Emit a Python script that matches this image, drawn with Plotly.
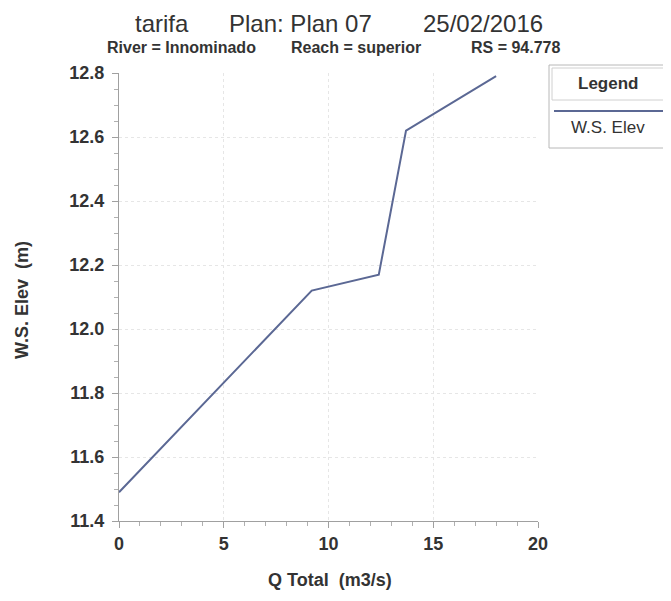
import plotly.graph_objects as go

q_total = [0.0, 9.2, 12.4, 13.7, 18.0]
ws_elev = [11.49, 12.12, 12.17, 12.62, 12.79]
series_name = "W.S. Elev"
title_parts = ["tarifa", "Plan: Plan 07", "25/02/2016"]
subtitle_parts = ["River = Innominado", "Reach = superior", "RS = 94.778"]
x_title = "Q Total  (m3/s)"
y_title = "W.S. Elev  (m)"
legend_title = "Legend"

OFF = 8  # page body margin
W, H = 671 - OFF, 601 - OFF
L, T = 119 - OFF, 73 - OFF
pw, ph = 419, 448
R, B = W - L - pw, H - T - ph

def px(x):
    return (x - OFF - L) / pw

def py(y):
    return (T + ph - (y - OFF)) / ph

line_color = "#5b6894"
txt = "#333333"
font = "Liberation Sans, Arial, sans-serif"

fig = go.Figure()
fig.add_trace(go.Scatter(x=q_total, y=ws_elev, mode="lines", name=series_name,
                         line=dict(color=line_color, width=2), showlegend=False))

axis_common = dict(showgrid=True, gridcolor="#e6e6e6", griddash="dot",
                   showline=True, linecolor="#a0a0a0", linewidth=1, zeroline=False,
                   ticks="outside", ticklen=6, tickcolor="#a0a0a0", automargin=False,
                   tickfont=dict(size=18, color=txt, family=font, weight="bold"))

fig.update_layout(
    width=W, height=H,
    margin=dict(l=L, r=R, t=T, b=B),
    paper_bgcolor="white", plot_bgcolor="white",
    font=dict(family=font, color=txt),
    xaxis=dict(range=[0, 20], dtick=5,
               minor=dict(dtick=1, ticks="outside", ticklen=4, tickcolor="#b0b0b0", showgrid=False),
               **axis_common),
    yaxis=dict(range=[11.4, 12.8], dtick=0.2, tickformat=".1f", ticklabelstandoff=4,
               minor=dict(dtick=0.05, ticks="outside", ticklen=4, tickcolor="#b0b0b0", showgrid=False),
               **axis_common),
)

# titles
for t, cx in zip(title_parts, [162, 300, 483]):
    fig.add_annotation(x=px(cx), y=1 + T / ph, xref="paper", yref="paper", text=t,
                       showarrow=False, font=dict(size=24, color=txt), xanchor="center", yanchor="top")
for t, cx in zip(subtitle_parts, [181, 356, 516]):
    fig.add_annotation(x=px(cx), y=py(47), xref="paper", yref="paper", text="<b>" + t + "</b>",
                       showarrow=False, font=dict(size=16, color=txt), xanchor="center", yanchor="middle")

# axis titles
fig.add_annotation(x=px(330), y=py(580), xref="paper", yref="paper", text="<b>" + x_title + "</b>",
                   showarrow=False, font=dict(size=18, color=txt), xanchor="center", yanchor="middle")
fig.add_annotation(x=px(22), y=py(300), xref="paper", yref="paper", text="<b>" + y_title + "</b>",
                   showarrow=False, font=dict(size=18, color=txt), textangle=-90,
                   xanchor="center", yanchor="middle")

# legend box
fig.add_shape(type="rect", xref="paper", yref="paper", x0=px(549), x1=px(668), y0=py(148), y1=py(65),
              line=dict(color="#b8b8b8", width=1), fillcolor="white")
fig.add_shape(type="rect", xref="paper", yref="paper", x0=px(552), x1=px(665), y0=py(100), y1=py(68),
              line=dict(color="#d0d0d0", width=1))
fig.add_shape(type="line", xref="paper", yref="paper", x0=px(554), x1=px(664), y0=py(111), y1=py(111),
              line=dict(color=line_color, width=2))
fig.add_annotation(x=px(608), y=py(83), xref="paper", yref="paper", text="<b>" + legend_title + "</b>",
                   showarrow=False, font=dict(size=17, color=txt), xanchor="center", yanchor="middle")
fig.add_annotation(x=px(608), y=py(128), xref="paper", yref="paper", text=series_name,
                   showarrow=False, font=dict(size=17, color=txt), xanchor="center", yanchor="middle")

fig.write_html("out.html")
